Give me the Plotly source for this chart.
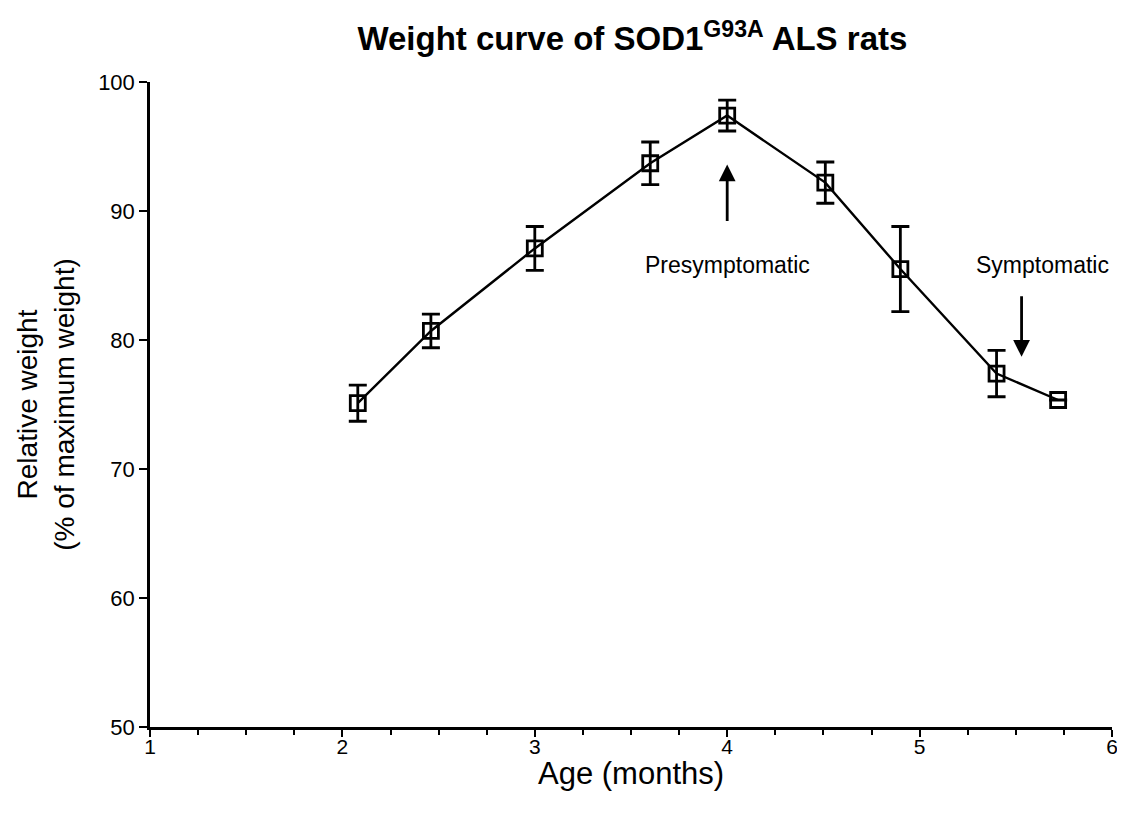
import plotly.graph_objects as go

age = [2.08, 2.46, 3.0, 3.6, 4.0, 4.51, 4.9, 5.4, 5.72]
weight = [75.1, 80.7, 87.1, 93.7, 97.4, 92.2, 85.5, 77.4, 75.35]
err = [1.4, 1.3, 1.7, 1.65, 1.2, 1.6, 3.3, 1.8, 0.0]

annot_text = ["Presymptomatic", "Symptomatic"]
annot_x = [4.0, 5.64]
arrow_x = [4.0, 5.53]
arrow_head_y = [93.6, 78.7]
arrow_tail_y = [89.1, 83.5]
text_y = [85.8, 85.8]

x_title = "Age (months)"
y_title = "Relative weight<br>(% of maximum weight)"

FONT = "Liberation Sans, Arial, sans-serif"

fig = go.Figure()
fig.add_trace(go.Scatter(
    x=age, y=weight, mode="lines+markers",
    line=dict(color="black", width=2.4),
    marker=dict(symbol="square-open", size=15, color="black", line=dict(width=2.8, color="black")),
    error_y=dict(type="data", array=err, visible=True, color="black", thickness=2.8, width=9),
    showlegend=False,
))

for t, tx, ax_, hy, ty, yy in zip(annot_text, annot_x, arrow_x, arrow_head_y, arrow_tail_y, text_y):
    fig.add_annotation(x=tx, y=yy, text=t, showarrow=False, xref="x", yref="y",
                       font=dict(family=FONT, size=23, color="black"))
    fig.add_annotation(x=ax_, y=hy, ax=ax_, ay=ty, xref="x", yref="y", axref="x", ayref="y",
                       text="", showarrow=True, arrowhead=2, arrowsize=1.2, arrowwidth=2.8,
                       arrowcolor="black")

fig.add_annotation(x=0.5, y=-0.072, xref="paper", yref="paper", text=x_title, showarrow=False,
                   xanchor="center", yanchor="middle", font=dict(family=FONT, size=31, color="black"))

fig.update_layout(
    width=1125, height=814,
    paper_bgcolor="white", plot_bgcolor="white",
    margin=dict(l=142, r=21, t=74, b=95),
    title=dict(text="<b>Weight curve of SOD1<sup>G93A</sup> ALS rats</b>", x=0.555, xanchor="center",
               y=0.962, yanchor="middle", font=dict(family=FONT, size=33, color="black")),
    font=dict(family=FONT, color="black"),
)
fig.update_xaxes(
    range=[1, 6], tickvals=[1, 2, 3, 4, 5, 6], ticks="outside", ticklen=7, tickwidth=2,
    tickcolor="black", showline=True, linecolor="black", linewidth=2.5, showgrid=False, zeroline=False,
    minor=dict(dtick=0.25, tick0=1, ticks="outside", ticklen=5, tickwidth=1.5, tickcolor="black"),
    tickfont=dict(family=FONT, size=21, color="black"), ticklabelstandoff=-8,
)
fig.update_yaxes(
    range=[50, 100], tickvals=[50, 60, 70, 80, 90, 100], ticks="outside", ticklen=8, tickwidth=2,
    tickcolor="black", showline=True, linecolor="black", linewidth=2.5, showgrid=False, zeroline=False,
    tickfont=dict(family=FONT, size=22, color="black"),
    title=dict(text=y_title, font=dict(family=FONT, size=28, color="black"), standoff=16),
)

fig.write_html("out.html")
